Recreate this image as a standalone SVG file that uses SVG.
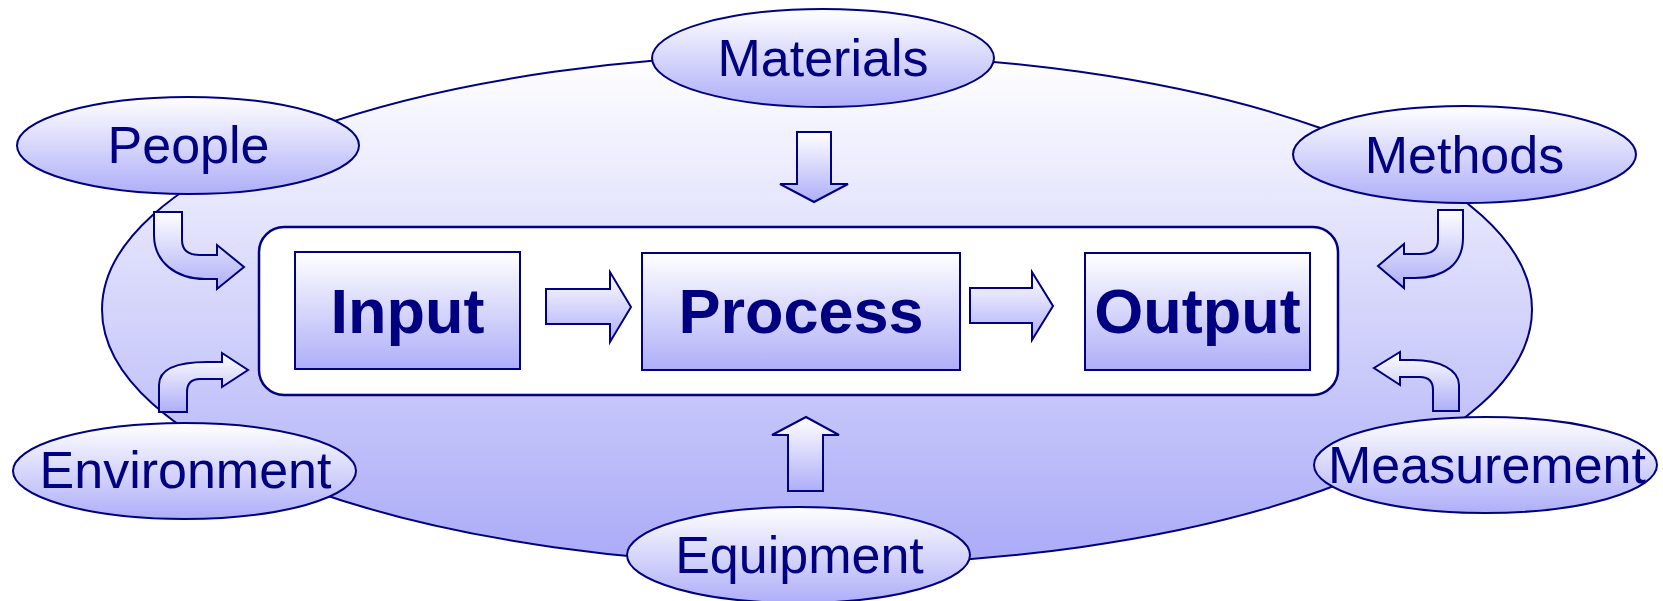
<svg xmlns="http://www.w3.org/2000/svg" width="1663" height="601" viewBox="0 0 1663 601">
<defs>
<linearGradient id="g" x1="0" y1="0" x2="0" y2="1">
<stop offset="0" stop-color="#ffffff"/>
<stop offset="1" stop-color="#aeaef9"/>
</linearGradient>
<linearGradient id="gbig" x1="0" y1="0" x2="0" y2="1">
<stop offset="0" stop-color="#ffffff"/>
<stop offset="1" stop-color="#aaaaf8"/>
</linearGradient>
<style>
.sh{fill:url(#g);stroke:#000080;stroke-width:2}
.lbl{font-family:"Liberation Sans",Arial,sans-serif;font-size:52px;fill:#000080;text-anchor:middle}
.blbl{font-family:"Liberation Sans",Arial,sans-serif;font-size:63px;font-weight:bold;fill:#000080;text-anchor:middle}
</style>
</defs>
<g id="background">
<ellipse cx="817" cy="309.5" rx="715" ry="255.6" fill="url(#gbig)" stroke="#000080" stroke-width="2"/>
<rect x="259" y="227" width="1079" height="168" rx="25" ry="25" fill="#ffffff" stroke="#000080" stroke-width="2.5"/>
</g>
<g id="connectors">
<path class="sh" d="M546,289 H610 V272 L631,307 L610,342 V324 H546 Z"/>
<path class="sh" d="M970,288 H1032 V272 L1053,306 L1032,340 V323 H970 Z"/>
<path class="sh" d="M797,132 H831 V184 H848 L814,202 L780,184 H797 Z"/>
<path class="sh" d="M788,491 H823 V435 H839 L806,417 L772,435 H788 Z"/>
<path class="sh" d="M154,212 H182 V240 Q182,255 200,255 H217 V245 L244,267 L217,289 V279 H205 C176,279 154,262 154,235 Z"/>
<path class="sh" d="M159,412 H187 V392 Q187,379 200,379 H222 V387 L248,370 L222,353 V362 H207 C175,362 159,370 159,385 Z"/>
<path class="sh" d="M1463,210 H1438 V240 Q1438,254 1420,254 H1404 V244 L1378,266 L1404,288 V278 H1415 C1443,278 1463,265 1463,238 Z"/>
<path class="sh" d="M1433,411 H1459 V385 C1459,370 1440,360 1413,360 H1400 V352 L1374,368 L1400,385 V377 H1420 Q1433,377 1433,390 Z"/>
</g>
<g id="input">
<rect class="sh" x="295" y="252" width="225" height="117"/>
<text class="blbl" x="407.5" y="333">Input</text>
</g>
<g id="process">
<rect class="sh" x="642" y="253" width="318" height="117"/>
<text class="blbl" x="801" y="333">Process</text>
</g>
<g id="output">
<rect class="sh" x="1085" y="253" width="225" height="117"/>
<text class="blbl" x="1197.5" y="333">Output</text>
</g>
<g id="materials">
<ellipse class="sh" cx="823" cy="58" rx="171" ry="49"/>
<text class="lbl" x="823" y="76">Materials</text>
</g>
<g id="people">
<ellipse class="sh" cx="188" cy="145.5" rx="171" ry="48.5"/>
<text class="lbl" x="188.5" y="163">People</text>
</g>
<g id="methods">
<ellipse class="sh" cx="1464.5" cy="154.5" rx="171.5" ry="48.5"/>
<text class="lbl" x="1464.5" y="172.5">Methods</text>
</g>
<g id="environment">
<ellipse class="sh" cx="184.5" cy="471" rx="171.5" ry="48"/>
<text class="lbl" x="185.5" y="488">Environment</text>
</g>
<g id="measurement">
<ellipse class="sh" cx="1485.5" cy="465" rx="171.5" ry="48"/>
<text class="lbl" x="1487" y="483">Measurement</text>
</g>
<g id="equipment">
<ellipse class="sh" cx="798.5" cy="555" rx="171.5" ry="48"/>
<text class="lbl" x="799.5" y="573">Equipment</text>
</g>
</svg>
